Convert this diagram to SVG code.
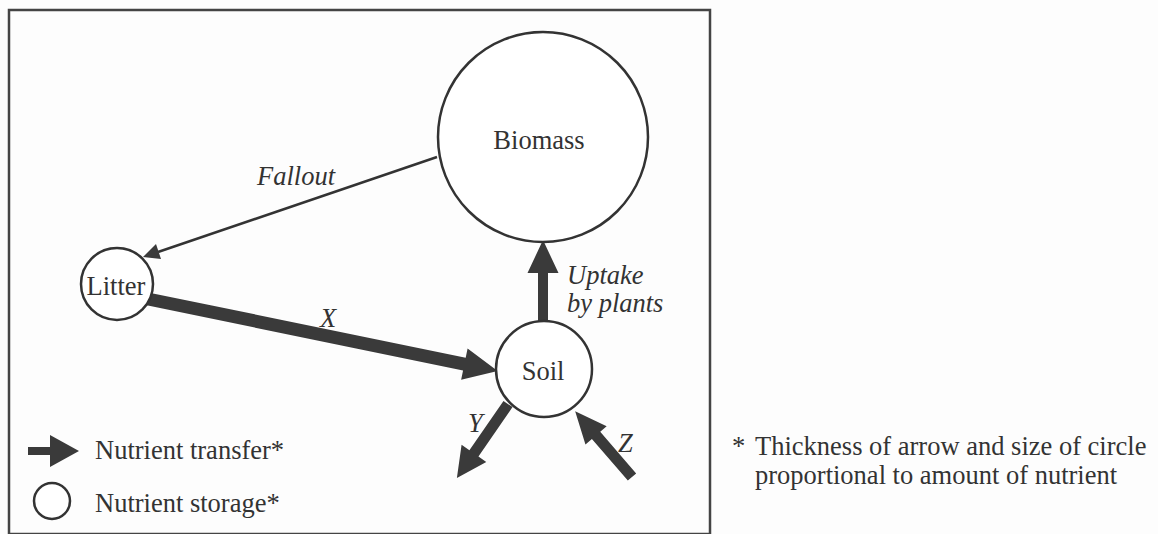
<svg xmlns="http://www.w3.org/2000/svg" width="1158" height="534" viewBox="0 0 1158 534" font-family="'Liberation Serif', 'Times New Roman', 'DejaVu Serif', serif">
<style>
text{font-family:"Liberation Serif","Times New Roman","DejaVu Serif",serif;font-size:26.5px;fill:#333}
.it{font-style:italic}
.node{fill:#fff;stroke:#333;stroke-width:2.5}
.flow{fill:#3a3a3a}
.thin{stroke:#333;stroke-width:2.5;fill:none}
</style>
<rect width="1158" height="534" fill="#fdfdfd"/>
<rect x="9" y="10" width="701" height="524" fill="none" stroke="#444" stroke-width="2.5"/>
<g id="connectors">
<line class="thin" x1="437" y1="157" x2="158" y2="252"/>
<path class="flow" d="M143,257 L156,244 L161,259 Z"/>
<g transform="translate(148,299) rotate(11.63)"><path class="flow" d="M0,-6.5 L323,-6.5 L323,-16 L357,0 L323,16 L323,6.5 L0,6.5 Z"/></g>
<path class="flow" d="M538,322 L538,273 L527.5,273 L543,240 L558.5,273 L548,273 L548,322 Z"/>
<g transform="translate(508,404) rotate(124.6)"><path class="flow" d="M0,-5.5 L60,-5.5 L60,-15 L90,0 L60,15 L60,5.5 L0,5.5 Z"/></g>
<g transform="translate(632,477) rotate(229.2)"><path class="flow" d="M0,-5.5 L55,-5.5 L55,-14 L87,0 L55,14 L55,5.5 L0,5.5 Z"/></g>
</g>
<g id="biomass"><circle class="node" cx="543" cy="137" r="105"/><text x="539" y="149" text-anchor="middle">Biomass</text></g>
<g id="litter"><circle class="node" cx="117" cy="284" r="36"/><text x="116" y="295" text-anchor="middle">Litter</text></g>
<g id="soil"><circle class="node" cx="544" cy="369" r="48"/><text x="543" y="380" text-anchor="middle">Soil</text></g>
<g id="labels">
<text class="it" x="257" y="185">Fallout</text>
<text class="it" x="320" y="327">X</text>
<text class="it" x="567" y="284">Uptake</text>
<text class="it" x="567" y="312">by plants</text>
<text class="it" x="468" y="432">Y</text>
<text class="it" x="618" y="452">Z</text>
</g>
<g id="legend">
<path class="flow" d="M28,447 L50,447 L50,435 L79,451 L50,467 L50,455 L28,455 Z"/>
<text x="95" y="459">Nutrient transfer*</text>
<circle class="node" cx="52" cy="501" r="18"/>
<text x="95" y="512">Nutrient storage*</text>
</g>
<g id="footnote">
<text x="732" y="455">*</text>
<text x="755" y="455">Thickness of arrow and size of circle</text>
<text x="755" y="484">proportional to amount of nutrient</text>
</g>
</svg>
